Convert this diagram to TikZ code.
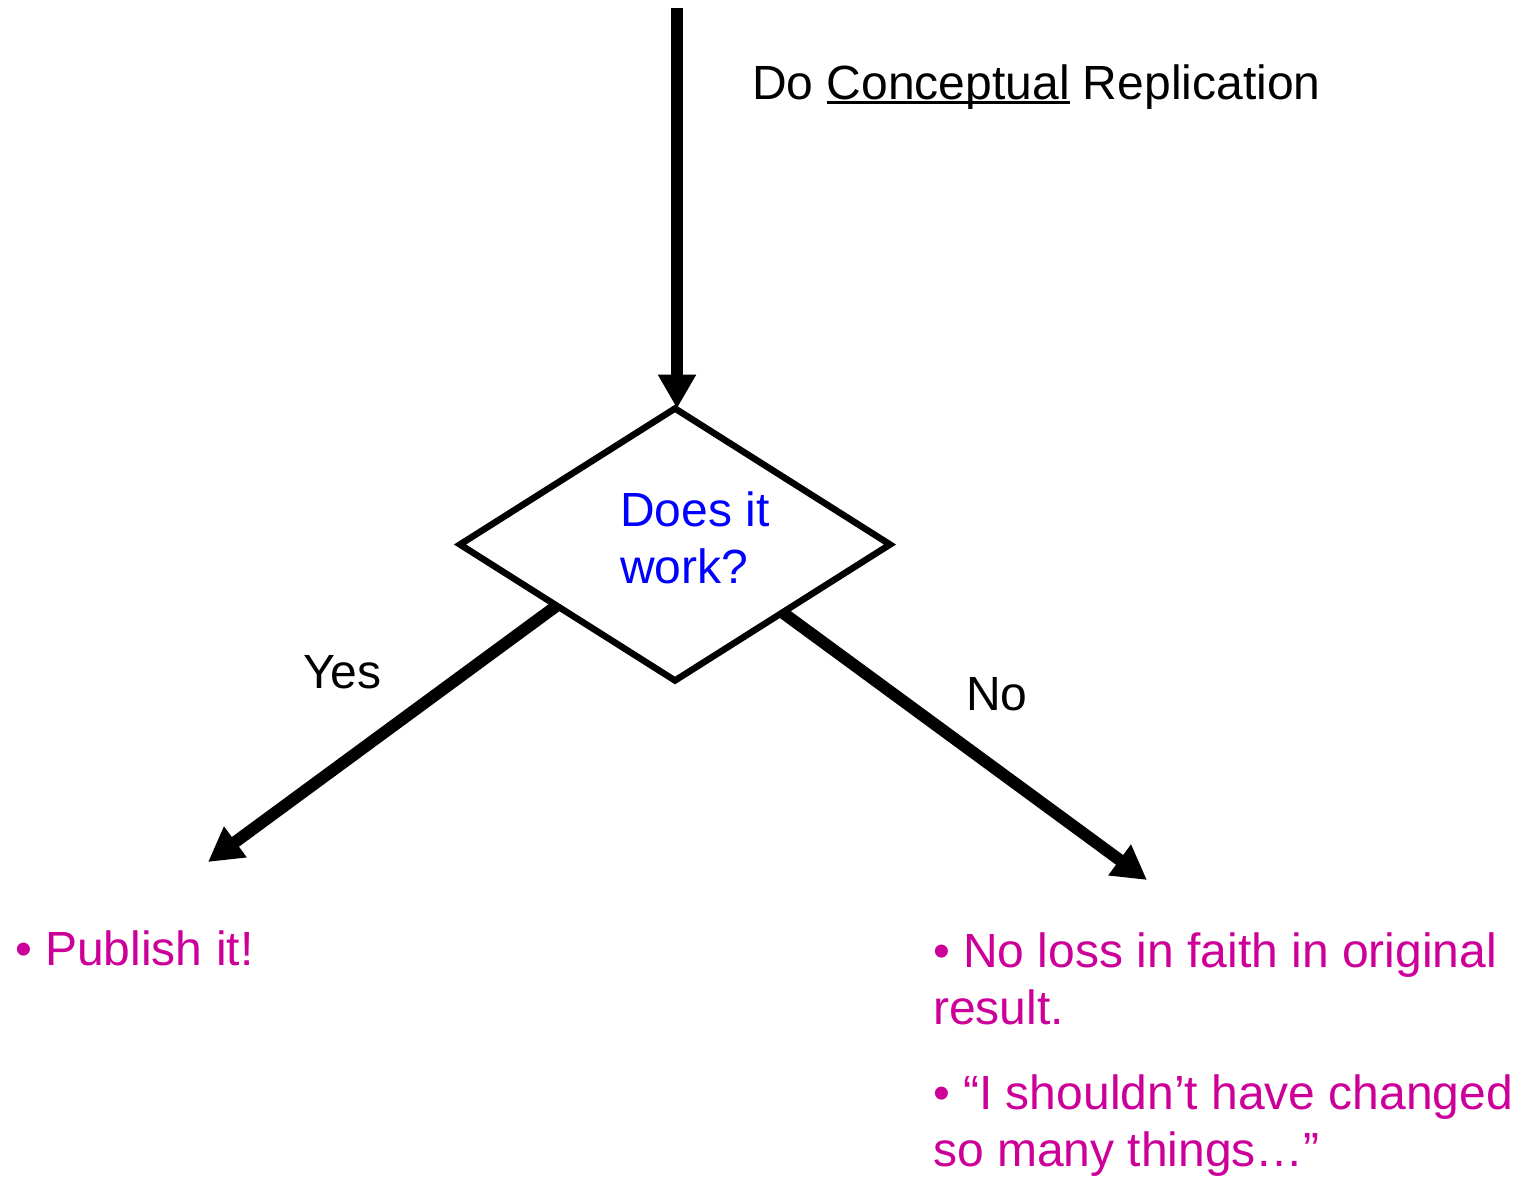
\documentclass[tikz,border=0pt]{standalone}
\usepackage{fontspec}
\setmainfont{Liberation Sans}
\usetikzlibrary{arrows.meta,shapes.geometric,calc}
\definecolor{mag}{HTML}{CC0099}
\definecolor{qblue}{HTML}{0000FF}
\newcommand\ulword[1]{\setbox0\hbox{#1}\rlap{\rule[-5pt]{\wd0}{2.6pt}}\box0\relax}
\begin{document}
\begin{tikzpicture}[x=1pt,y=1pt,
  lbl/.style={inner sep=0pt, font=\fontsize{48}{56.5}\selectfont},
  flow/.style={line width=12pt, -{Triangle[length=34pt,width=36pt]}},
  decision/.style={diamond, draw, line width=6.5pt, minimum width=430pt, minimum height=272pt, inner sep=0pt, outer sep=0pt}]
\useasboundingbox (0,0) rectangle (1519,-1178);
\node[decision] (q) at (675,-544.5) {};
\coordinate (top) at (677,-8);
\coordinate (yesend) at (208,-862);
\coordinate (noend) at (1147,-880);
\draw[flow] (top) -- (q.north -| top);
\draw[flow] ($(q.west)!0.45!(q.south)$) -- (yesend);
\draw[flow] ($(q.south)!0.5!(q.east)$) -- (noend);
\node[lbl, anchor=base west] (title) at (752,-99) {Do \ulword{Conceptual} Replication};
\node[lbl, anchor=north west, text=qblue, align=left] (qtext) at (620,-492) {Does it\\work?};
\node[lbl, anchor=base west] (yes) at (303,-688) {Yes};
\node[lbl, anchor=base west] (no) at (966,-710) {No};
\node[lbl, anchor=base west, text=mag] (pub) at (15,-965) {• Publish it!};
\node[lbl, anchor=north west, text=mag, align=left] (nores) at (933,-933) {• No loss in faith in original\\result.\\[29pt]• “I shouldn’t have changed\\so many things…”};
\end{tikzpicture}
\end{document}
